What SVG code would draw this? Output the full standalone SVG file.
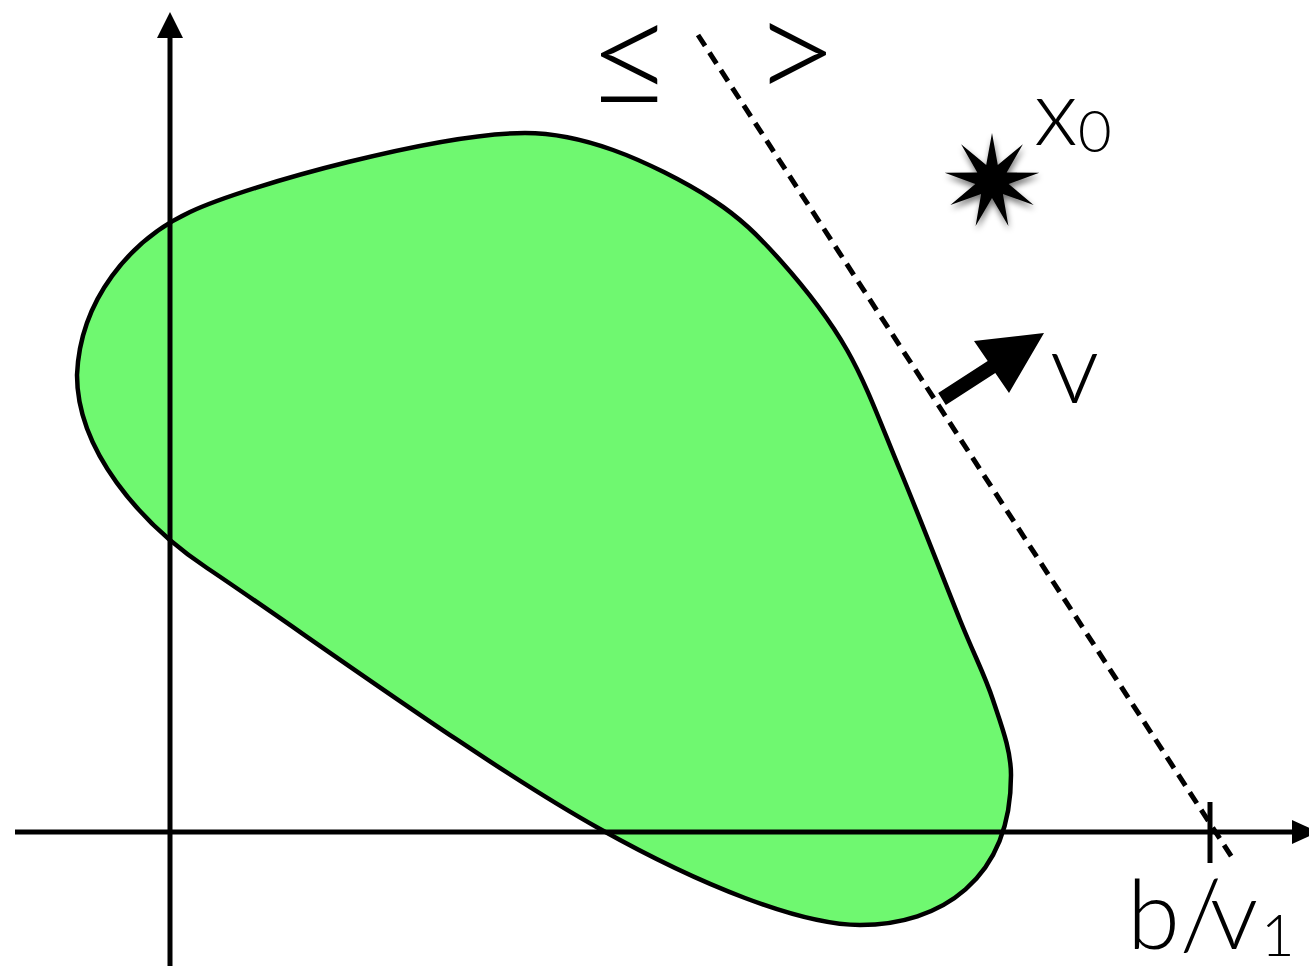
<svg xmlns="http://www.w3.org/2000/svg" width="1309" height="966" viewBox="0 0 1309 966">
  <style>
    .lbl { font-family: Lato, "Liberation Sans", sans-serif; font-weight: 300; fill: #000; }
    .axis { stroke: #000; stroke-width: 5; fill: none; }
  </style>
  <defs>
    <filter id="shadow" x="-50%" y="-50%" width="200%" height="200%">
      <feGaussianBlur in="SourceAlpha" stdDeviation="3"/>
      <feOffset dx="1" dy="4" result="b"/>
      <feComponentTransfer><feFuncA type="linear" slope="0.55"/></feComponentTransfer>
      <feMerge><feMergeNode/><feMergeNode in="SourceGraphic"/></feMerge>
    </filter>
  </defs>
  <rect width="1309" height="966" fill="#fff"/>

  <g id="region">
    <path d="M 77,375 C 80,300 130,240 190,212 C 250,184 440,133 525,133 C 554.3,133 581.7,138.8 613,150 C 644.3,161.2 685.2,181.7 713,200 C 740.8,218.3 757.7,235 780,260 C 802.3,285 827,315 847,350 C 867,385 881.2,425 900,470 C 918.8,515 944.5,581.7 960,620 C 975.5,658.3 984.5,674.2 993,700 C 1001.5,725.8 1011,750 1011,775 C 1011,880 940,925 860,925 C 800,925 700,885 600,829 C 480,762 300,630 207,568 C 140,523.3 77,450 77,375 Z" fill="#6ff870" stroke="#000" stroke-width="4.5"/>
  </g>

  <g id="connectors">
    <line class="axis" x1="15" y1="832" x2="1296" y2="832"/>
    <polygon points="1292,820 1318,832 1292,844" fill="#000"/>
    <line class="axis" x1="170" y1="966" x2="170" y2="34"/>
    <polygon points="157,38 170,12 183,38" fill="#000"/>
    <line class="axis" x1="1210" y1="802" x2="1210" y2="863" stroke-width="4"/>
    <line x1="698" y1="35" x2="1235" y2="862" stroke="#000" stroke-width="5" stroke-dasharray="13,8"/>
    <polygon points="938.2,393.1 987.7,361.1 974,341 1044,333 1009,393 995.3,372.9 945.8,404.9" fill="#000"/>
  </g>

  <g id="star-x0">
    <polygon filter="url(#shadow)" fill="#000" points="992,133 997.8,165 1022.9,144.2 1006.7,172.5 1039.3,172.7 1008.7,184 1033.6,205 1002.9,194 1008.4,226.1 992,198 975.6,226.1 981.1,194 950.4,205 975.3,184 944.7,172.7 977.3,172.5 961.1,144.2 986.2,165"/>
    <text class="lbl" x="1034" y="145" font-size="93">x</text>
    <text class="lbl" x="1078" y="152" font-size="58">0</text>
  </g>

  <g id="label-v">
    <text class="lbl" x="1050" y="403" font-size="98">v</text>
  </g>

  <g id="label-b">
    <text class="lbl" y="949" font-size="96"><tspan x="1127">b</tspan><tspan x="1180">/</tspan><tspan x="1210">v</tspan><tspan x="1261" y="956" font-size="58">1</tspan></text>
  </g>

  <g id="inequalities">
    <text class="lbl" x="586" y="108" font-size="150">≤</text>
    <text class="lbl" x="752" y="104" font-size="150">&gt;</text>
  </g>
</svg>
